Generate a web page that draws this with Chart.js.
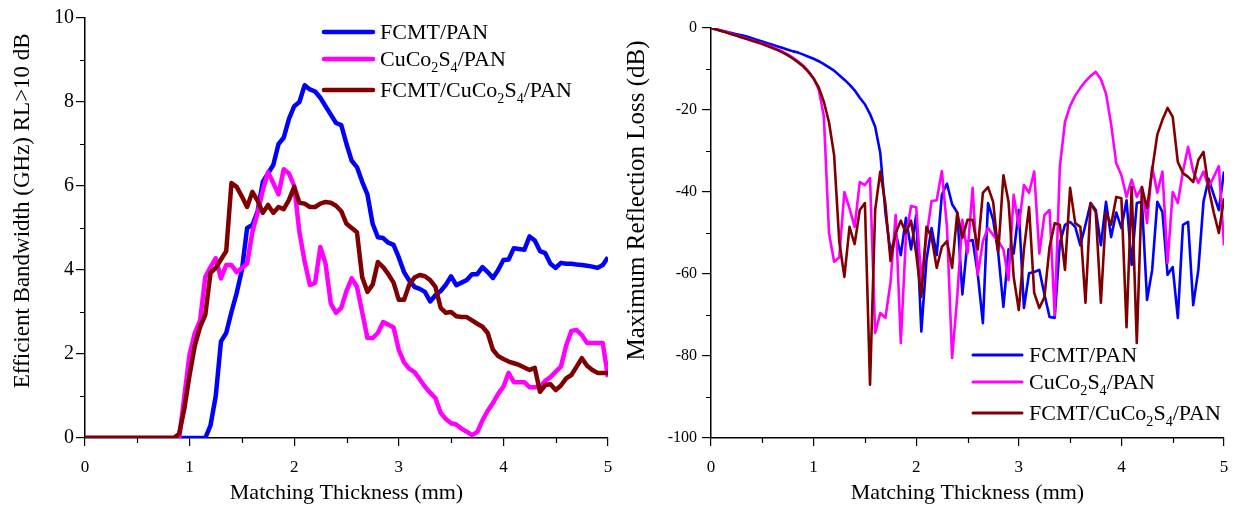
<!DOCTYPE html>
<html>
<head>
<meta charset="utf-8">
<script src="https://cdn.jsdelivr.net/npm/chart.js@4.4.1/dist/chart.umd.min.js"></script>
<style>
  html, body { margin: 0; padding: 0; background: #fff; }
  #wrap { position: relative; width: 1242px; height: 508px; }
  .box { position: absolute; top: 0; height: 508px; }
  #left { left: 0; width: 630px; }
  #right { left: 620px; width: 622px; }
</style>
</head>
<body>
<div id="wrap">
  <div class="box" id="right"><canvas id="rl"></canvas></div>
  <div class="box" id="left"><canvas id="bw"></canvas></div>
</div>
<script>
const labels = ['FCMT/PAN', 'CuCo₂S₄/PAN', 'FCMT/CuCo₂S₄/PAN']
const colors = ['#0000ff', '#ff00ff', '#800000']

// matching thickness (mm)
const thickness = [
  0, 0.05, 0.1, 0.15, 0.2, 0.25, 0.3, 0.35, 0.4, 0.45,
  0.5, 0.55, 0.6, 0.65, 0.7, 0.75, 0.8, 0.85, 0.9, 0.95,
  1, 1.05, 1.1, 1.15, 1.2, 1.25, 1.3, 1.35, 1.4, 1.45,
  1.5, 1.55, 1.6, 1.65, 1.7, 1.75, 1.8, 1.85, 1.9, 1.95,
  2, 2.05, 2.1, 2.15, 2.2, 2.25, 2.3, 2.35, 2.4, 2.45,
  2.5, 2.55, 2.6, 2.65, 2.7, 2.75, 2.8, 2.85, 2.9, 2.95,
  3, 3.05, 3.1, 3.15, 3.2, 3.25, 3.3, 3.35, 3.4, 3.45,
  3.5, 3.55, 3.6, 3.65, 3.7, 3.75, 3.8, 3.85, 3.9, 3.95,
  4, 4.05, 4.1, 4.15, 4.2, 4.25, 4.3, 4.35, 4.4, 4.45,
  4.5, 4.55, 4.6, 4.65, 4.7, 4.75, 4.8, 4.85, 4.9, 4.95,
  5
]

// efficient bandwidth (GHz)
const bwFcmt = [
  0, 0, 0, 0, 0, 0, 0, 0, 0, 0,
  0, 0, 0, 0, 0, 0, 0, 0, 0, 0,
  0, 0, 0, 0, 0.3, 1.0, 2.3, 2.5, 3.0, 3.45,
  4.0, 5.0, 5.07, 5.4, 6.1, 6.3, 6.5, 7.0, 7.15, 7.6,
  7.9, 8.0, 8.4, 8.3, 8.25, 8.1, 7.9, 7.7, 7.5, 7.45,
  7.0, 6.6, 6.45, 6.1, 5.8, 5.1, 4.78, 4.76, 4.65, 4.6,
  4.3, 3.95, 3.75, 3.6, 3.55, 3.48, 3.25, 3.4, 3.5, 3.65,
  3.85, 3.64, 3.7, 3.76, 3.9, 3.9, 4.07, 3.95, 3.81, 4.0,
  4.24, 4.25, 4.52, 4.5, 4.48, 4.8, 4.7, 4.45, 4.4, 4.15,
  4.05, 4.17, 4.15, 4.15, 4.13, 4.12, 4.1, 4.08, 4.05, 4.12,
  4.3
]
const bwCuCo = [
  0, 0, 0, 0, 0, 0, 0, 0, 0, 0,
  0, 0, 0, 0, 0, 0, 0, 0, 0, 1.0,
  2.0, 2.5, 2.8, 3.83, 4.07, 4.28, 3.8, 4.12, 4.12, 3.95,
  4.05, 4.15, 4.9, 5.36, 5.9, 6.33, 6.07, 5.8, 6.4, 6.3,
  6.0, 4.9, 4.2, 3.64, 3.69, 4.55, 4.15, 3.2, 2.98, 3.1,
  3.5, 3.8, 3.6, 3.0, 2.38, 2.38, 2.5, 2.76, 2.7, 2.63,
  2.1, 1.8, 1.65, 1.57, 1.4, 1.22, 1.08, 0.95, 0.6, 0.45,
  0.35, 0.32, 0.22, 0.15, 0.07, 0.14, 0.42, 0.65, 0.83, 1.05,
  1.22, 1.55, 1.33, 1.33, 1.33, 1.21, 1.21, 1.22, 1.36, 1.45,
  1.58, 1.7, 2.2, 2.55, 2.57, 2.45, 2.26, 2.26, 2.26, 2.26,
  1.45
]
const bwBoth = [
  0, 0, 0, 0, 0, 0, 0, 0, 0, 0,
  0, 0, 0, 0, 0, 0, 0, 0, 0.1, 0.7,
  1.5, 2.2, 2.64, 2.93, 3.93, 4.05, 4.25, 4.45, 6.07, 5.98,
  5.75, 5.5, 5.86, 5.65, 5.36, 5.55, 5.36, 5.5, 5.45, 5.67,
  5.98, 5.6, 5.58, 5.5, 5.5, 5.58, 5.62, 5.6, 5.53, 5.4,
  5.1, 5.0, 4.9, 3.83, 3.48, 3.65, 4.19, 4.07, 3.9, 3.7,
  3.29, 3.29, 3.65, 3.82, 3.88, 3.85, 3.76, 3.6, 3.1, 2.98,
  3.0, 2.9, 2.88, 2.88, 2.8, 2.72, 2.65, 2.5, 2.1, 1.95,
  1.88, 1.82, 1.78, 1.74, 1.68, 1.62, 1.67, 1.1, 1.26, 1.28,
  1.14, 1.25, 1.42, 1.5, 1.7, 1.9, 1.72, 1.62, 1.55, 1.55,
  1.55
]

// maximum reflection loss (dB)
const rlFcmt = [
  0, -0.3, -0.6, -0.9, -1.2, -1.5, -1.8, -2.1, -2.5, -2.9,
  -3.3, -3.7, -4.1, -4.5, -4.9, -5.3, -5.7, -6.0, -6.5, -7.0,
  -7.5, -8.1, -8.8, -9.6, -10.4, -11.5, -12.6, -13.8, -15.2, -17,
  -18.6, -21, -24.1, -30.5, -45, -55, -50, -55.4, -46.3, -54,
  -45.6, -74, -56.6, -48.8, -55.4, -40.7, -38, -43, -45, -65,
  -52, -51.7, -60, -72, -42.7, -46.8, -55, -68, -54, -55,
  -44.4, -68.3, -59.8, -59.5, -59, -65, -70.5, -70.7, -52.4, -48,
  -47.3, -48.5, -53, -48, -42.7, -44.4, -53, -42.4, -51, -45,
  -48.8, -42, -57.8, -42.7, -42.4, -66.3, -59, -42.4, -44.9, -60.2,
  -58.3, -70.7, -48, -47.3, -67.6, -59, -42.4, -36.8, -40.7, -44.4,
  -35
]
const rlCuCo = [
  0, -0.3, -0.7, -1.0, -1.4, -1.8, -2.2, -2.6, -3.0, -3.4,
  -3.8, -4.2, -4.7, -5.2, -5.8, -6.5, -7.3, -8.2, -9.2, -10.6,
  -12.3, -15, -21.5, -50, -57, -56, -40, -44, -48.5, -37.6,
  -38.3, -36.6, -74.4, -69.5, -70.7, -62, -45.6, -76.8, -51, -43.4,
  -43.7, -61.5, -51, -42.2, -42, -34.9, -48.5, -80.5, -65.6, -46.8,
  -55, -39, -60.2, -52, -48.8, -50.5, -52, -54, -61.5, -40.7,
  -48.5, -38.3, -40.2, -35, -55, -45.6, -44.4, -70, -33.9, -22.9,
  -19, -16.5, -14.6, -13, -11.7, -10.7, -12.5, -16, -23.5, -33,
  -35.9, -41.2, -37, -41.2, -38.8, -47.6, -33.9, -40.2, -35, -57.3,
  -40, -42.7, -35, -29, -35, -37.8, -35, -38.8, -36.3, -33.7,
  -53
]
const rlBoth = [
  0, -0.35, -0.75, -1.1, -1.5, -1.9, -2.3, -2.7, -3.1, -3.5,
  -3.9, -4.4, -4.9, -5.4, -6.0, -6.7, -7.5, -8.4, -9.4, -10.7,
  -12.3, -14.5, -18, -23, -31, -52, -60.7, -48.5, -52.7, -44.4,
  -42.7, -87, -44.4, -35, -43, -56.8, -50, -47, -50, -47,
  -55, -65.6, -48.5, -51, -58.5, -53.4, -52, -58.5, -45, -51.2,
  -46.8, -46.8, -54, -40.2, -38.8, -42.4, -54.6, -35.9, -42.4, -60.7,
  -68.8, -54, -43.7, -64.6, -68.3, -65.6, -53.4, -47.6, -48, -59,
  -39, -47.6, -48.5, -67, -42.7, -44.9, -67, -45, -48, -41.2,
  -41.5, -73, -38.8, -76.8, -38.8, -44, -34.6, -26, -22.4, -19.5,
  -21.7, -32.7, -35.4, -36.3, -37.6, -32.2, -30.2, -39, -45, -50,
  -41.5
]

Chart.defaults.font.family = '"Liberation Serif", "Times New Roman", serif'
Chart.defaults.color = '#000'

const pts = ys => ys.map((y, i) => ({ x: thickness[i], y }))

const makeSets = (series, width) => series.map((ys, i) => ({
  label: labels[i],
  data: pts(ys),
  borderColor: colors[i],
  backgroundColor: colors[i],
  borderWidth: width,
  borderJoinStyle: 'round',
  pointRadius: 0,
  tension: 0,
  order: 3 - i
}))

// legend text with real subscripts
function drawLabel(ctx, text, x, y, size) {
  const subs = '₀₁₂₃₄₅₆₇₈₉'
  const runs = []
  for (const ch of text) {
    const sub = subs.indexOf(ch) >= 0
    const c = sub ? String(subs.indexOf(ch)) : ch
    const last = runs[runs.length - 1]
    if (last && last.sub === sub) last.t += c
    else runs.push({ t: c, sub })
  }
  let cx = x
  runs.forEach(r => {
    const s = r.sub ? size * 0.64 : size
    ctx.font = s + 'px "Liberation Serif"'
    ctx.fillText(r.t, cx, r.sub ? y + size * 0.24 : y)
    cx += ctx.measureText(r.t).width
  })
}

const legendDraw = {
  id: 'legendDraw',
  afterDatasetsDraw(chart, args, opts) {
    const ctx = chart.ctx
    ctx.save()
    chart.data.datasets.forEach((ds, i) => {
      const y = opts.rows[i]
      ctx.strokeStyle = ds.borderColor
      ctx.lineWidth = opts.lineWidth
      ctx.lineCap = 'round'
      ctx.beginPath()
      ctx.moveTo(opts.x0, y)
      ctx.lineTo(opts.x1, y)
      ctx.stroke()
      ctx.fillStyle = '#000'
      ctx.textBaseline = 'alphabetic'
      drawLabel(ctx, ds.label, opts.x1 + 7, y + opts.size * 0.33, opts.size)
    })
    ctx.restore()
  }
}

// short ticks for the unlabelled positions
const minorTicks = {
  id: 'minorTicks',
  afterDraw(chart, args, opts) {
    const ctx = chart.ctx
    const { x, y } = chart.scales
    ctx.save()
    ctx.strokeStyle = '#000'
    ctx.lineWidth = 1.2
    ctx.beginPath()
    x.ticks.forEach(t => {
      if (t.label !== '') return
      const px = Math.round(x.getPixelForValue(t.value)) + 0.5
      ctx.moveTo(px, x.top)
      ctx.lineTo(px, x.top + opts.len)
    })
    y.ticks.forEach(t => {
      if (t.label !== '') return
      const py = Math.round(y.getPixelForValue(t.value)) + 0.5
      ctx.moveTo(y.right - opts.len, py)
      ctx.lineTo(y.right, py)
    })
    ctx.stroke()
    ctx.restore()
  }
}

const major = test => ({
  drawOnChartArea: false,
  lineWidth: 1.2,
  tickLength: 9,
  tickColor: c => test(c.tick.value) ? '#000' : 'rgba(0,0,0,0)'
})

const xAxis = () => ({
  type: 'linear',
  min: 0,
  max: 5,
  border: { color: '#000', width: 1.5 },
  grid: { ...major(v => Number.isInteger(v)), tickLength: 8 },
  ticks: {
    stepSize: 0.5,
    autoSkip: false,
    maxRotation: 0,
    font: { size: 17 },
    padding: 11,
    callback: v => Number.isInteger(v) ? v : ''
  },
  title: {
    display: true,
    text: 'Matching Thickness (mm)',
    font: { size: 22 },
    padding: { top: 0, bottom: 2 }
  },
  afterFit: s => { s.height = 70 }
})

new Chart(document.getElementById('bw'), {
  type: 'line',
  data: { datasets: makeSets([bwFcmt, bwCuCo, bwBoth], 4.5) },
  options: {
    animation: false,
    responsive: true,
    maintainAspectRatio: false,
    layout: { padding: { top: 18, right: 22, left: 0, bottom: 0 } },
    plugins: {
      legend: { display: false },
      tooltip: { enabled: false },
      legendDraw: { x0: 324, x1: 373, rows: [32, 59, 90], lineWidth: 4.5, size: 22 },
      minorTicks: { len: 5 }
    },
    scales: {
      x: xAxis(),
      y: {
        min: 0,
        max: 10,
        border: { color: '#000', width: 1.5 },
        grid: major(v => v % 2 === 0),
        ticks: {
          stepSize: 1,
          autoSkip: false,
          font: { size: 20 },
          padding: 2,
          callback: v => v % 2 === 0 ? v : ''
        },
        title: {
          display: true,
          text: '      Efficient Bandwidth (GHz) RL>10 dB',
          font: { size: 23 },
          padding: { top: 9, bottom: 0 }
        },
        afterFit: s => { s.width = 85 }
      }
    }
  },
  plugins: [legendDraw, minorTicks]
})

new Chart(document.getElementById('rl'), {
  type: 'line',
  data: { datasets: makeSets([rlFcmt, rlCuCo, rlBoth], 2.6) },
  options: {
    animation: false,
    responsive: true,
    maintainAspectRatio: false,
    layout: { padding: { top: 28, right: 18, left: 0, bottom: 0 } },
    plugins: {
      legend: { display: false },
      tooltip: { enabled: false },
      legendDraw: { x0: 353, x1: 402, rows: [355, 382, 413], lineWidth: 3, size: 22 },
      minorTicks: { len: 5 }
    },
    scales: {
      x: xAxis(),
      y: {
        min: -100,
        max: 0,
        border: { color: '#000', width: 1.5 },
        grid: major(v => v % 20 === 0),
        ticks: {
          stepSize: 10,
          autoSkip: false,
          font: { size: 16 },
          padding: 5,
          callback: v => v % 20 === 0 ? v : ''
        },
        title: {
          display: true,
          text: 'Maximum Reflection Loss (dB)  ',
          font: { size: 25 },
          align: 'end',
          padding: { top: 2, bottom: 0 }
        },
        afterFit: s => { s.width = 91 }
      }
    }
  },
  plugins: [legendDraw, minorTicks]
})
</script>
</body>
</html>
